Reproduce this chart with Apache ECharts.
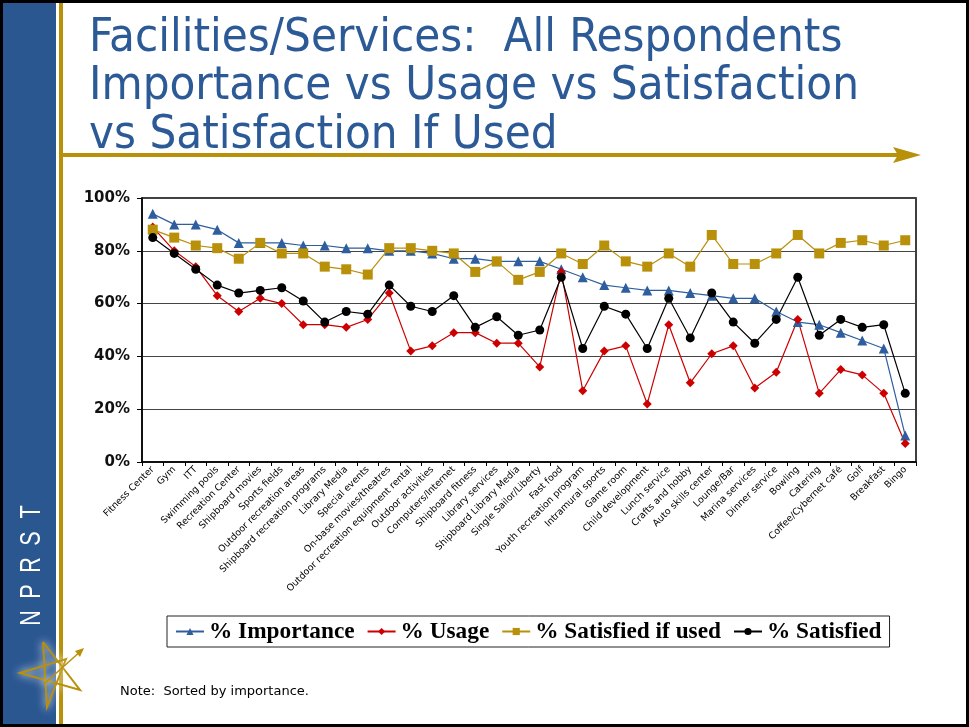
<!DOCTYPE html>
<html>
<head>
<meta charset="utf-8">
<script src="https://cdn.jsdelivr.net/npm/echarts@6/dist/echarts.min.js"></script>
<style>
  html, body { margin: 0; padding: 0; background: #fff; }
  #chart { width: 969px; height: 727px; }
</style>
</head>
<body>
<div id="chart"></div>
<script>
// categories sorted by importance
const categories = [
  'Fitness Center', 'Gym', 'ITT', 'Swimming pools', 'Recreation Center',
  'Shipboard movies', 'Sports fields', 'Outdoor recreation areas',
  'Shipboard recreation programs', 'Library Media', 'Special events',
  'On-base movies/theatres', 'Outdoor recreation equipment rental',
  'Outdoor activities', 'Computers/Internet', 'Shipboard fitness',
  'Library services', 'Shipboard Library Media', 'Single Sailor/Liberty',
  'Fast food', 'Youth recreation program', 'Intramural sports', 'Game room',
  'Child development', 'Lunch service', 'Crafts and hobby', 'Auto skills center',
  'Lounge/Bar', 'Marina services', 'Dinner service', 'Bowling', 'Catering',
  'Coffee/Cybernet café', 'Golf', 'Breakfast', 'Bingo'
]
const importance = [94, 90, 90, 88, 83, 83, 83, 82, 82, 81, 81, 80, 80, 79, 77, 77, 76, 76, 76, 73, 70, 67, 66, 65, 65, 64, 63, 62, 62, 57, 53, 52, 49, 46, 43, 10]
const usage = [89, 80, 74, 63, 57, 62, 60, 52, 52, 51, 54, 64, 42, 44, 49, 49, 45, 45, 36, 72, 27, 42, 44, 22, 52, 30, 41, 44, 28, 34, 54, 26, 35, 33, 26, 7]
const satisfiedIfUsed = [88, 85, 82, 81, 77, 83, 79, 79, 74, 73, 71, 81, 81, 80, 79, 72, 76, 69, 72, 79, 75, 82, 76, 74, 79, 74, 86, 75, 75, 79, 86, 79, 83, 84, 82, 84]
const satisfied = [85, 79, 73, 67, 64, 65, 66, 61, 53, 57, 56, 67, 59, 57, 63, 51, 55, 48, 50, 70, 43, 59, 56, 43, 62, 47, 64, 53, 45, 54, 70, 48, 54, 51, 52, 26]
const yTicks = [0, 20, 40, 60, 80, 100]
const titleLines = [
  'Facilities/Services:  All Respondents',
  'Importance vs Usage vs Satisfaction',
  'vs Satisfaction If Used'
]
const brand = ['N', 'P', 'R', 'S', 'T']

const chart = echarts.init(document.getElementById('chart'))

const gold = '#B8900A'
const blue = '#2B5A96'

function lineSeries(name, data, color, symbol, size) {
  return {
    name: name,
    type: 'line',
    data: data,
    symbol: symbol,
    symbolSize: size,
    lineStyle: { color: color, width: 1.2 },
    itemStyle: { color: color },
    emphasis: { disabled: true },
    z: 3
  }
}

// slide decoration
const graphics = [
  { type: 'rect', shape: { x: 1.5, y: 1.5, width: 966, height: 724 }, style: { fill: 'none', stroke: '#000', lineWidth: 3 }, z: 10 },
  { type: 'rect', shape: { x: 3, y: 3, width: 53, height: 721 }, style: { fill: '#2B5791' }, z: 1 },
  { type: 'rect', shape: { x: 59, y: 3, width: 4, height: 721 }, style: { fill: gold }, z: 1 },
  { type: 'rect', shape: { x: 63, y: 153, width: 835, height: 4 }, style: { fill: gold }, z: 1 },
  { type: 'polygon', shape: { points: [[893, 147], [921, 155], [893, 163], [898, 155]] }, style: { fill: gold }, z: 1 },
  // star logo
  {
    type: 'polyline',
    shape: { points: [[43, 642], [80, 690], [20, 673], [66, 659], [47, 707], [43, 642]] },
    style: { stroke: gold, lineWidth: 2, fill: 'none', shadowBlur: 8, shadowColor: '#fff' },
    z: 2
  },
  {
    type: 'polyline',
    shape: { points: [[44, 684], [82, 650]] },
    style: { stroke: gold, lineWidth: 1.5, shadowBlur: 6, shadowColor: '#fff' },
    z: 2
  },
  { type: 'polygon', shape: { points: [[84, 648], [75, 651], [80, 657]] }, style: { fill: gold }, z: 2 },
  {
    type: 'text',
    x: 120, y: 692,
    style: {
      text: 'Note:  Sorted by importance.',
      fill: '#000',
      font: '13px DejaVu Sans, Tahoma, sans-serif',
      verticalAlign: 'middle'
    }
  }
]

titleLines.forEach(function (t, i) {
  graphics.push({
    type: 'text',
    x: 89,
    y: 62 + i * 48.5,
    style: {
      text: t,
      fill: blue,
      font: '47px DejaVu Sans Condensed, DejaVu Sans, sans-serif',
      verticalAlign: 'bottom'
    },
    z: 2
  })
})

brand.forEach(function (ch, i) {
  graphics.push({
    type: 'text',
    x: 31.5,
    y: 618 - i * 26.5,
    rotation: Math.PI / 2,
    scaleX: 0.72,
    style: {
      text: ch,
      fill: '#fff',
      font: '30px Liberation Sans, sans-serif',
      align: 'center',
      verticalAlign: 'middle'
    },
    z: 2
  })
})

chart.setOption({
  animation: false,
  legend: {
    data: ['% Importance', '% Usage', '% Satisfied if used', '% Satisfied'],
    left: 167,
    top: 616,
    itemWidth: 28,
    itemHeight: 9,
    itemGap: 12,
    padding: [4, 8, 4, 8],
    borderColor: '#222',
    borderWidth: 1,
    textStyle: {
      fontFamily: 'Liberation Serif, Times New Roman, serif',
      fontWeight: 'bold',
      fontSize: 23.3,
      color: '#000'
    }
  },
  grid: {
    left: 142,
    top: 198,
    right: 53,
    bottom: 265,
    show: true,
    borderColor: '#000',
    borderWidth: 1.5,
    containLabel: false
  },
  xAxis: {
    type: 'category',
    data: categories,
    boundaryGap: true,
    axisLine: { lineStyle: { color: '#000', width: 1.5 } },
    axisTick: { show: true, inside: false, length: 4, lineStyle: { color: '#000' } },
    axisLabel: {
      interval: 0,
      rotate: 45,
      margin: 6,
      fontFamily: 'DejaVu Sans, Tahoma, sans-serif',
      fontSize: 9.4,
      color: '#000'
    }
  },
  yAxis: {
    type: 'value',
    min: yTicks[0],
    max: yTicks[yTicks.length - 1],
    interval: 20,
    axisLine: { show: true, lineStyle: { color: '#000', width: 1.5 } },
    axisTick: { show: true, length: 5, lineStyle: { color: '#000' } },
    splitLine: { lineStyle: { color: '#444', width: 1.2 } },
    axisLabel: {
      formatter: '{value}%',
      fontFamily: 'DejaVu Sans, Verdana, sans-serif',
      fontWeight: 'bold',
      fontSize: 15,
      color: '#111',
      margin: 12
    }
  },
  series: [
    lineSeries('% Importance', importance, '#2E5E9E', 'triangle', 10),
    lineSeries('% Usage', usage, '#CC0000', 'diamond', 9),
    lineSeries('% Satisfied if used', satisfiedIfUsed, gold, 'rect', 10),
    lineSeries('% Satisfied', satisfied, '#000', 'circle', 9)
  ],
  graphic: graphics
})
</script>
</body>
</html>
